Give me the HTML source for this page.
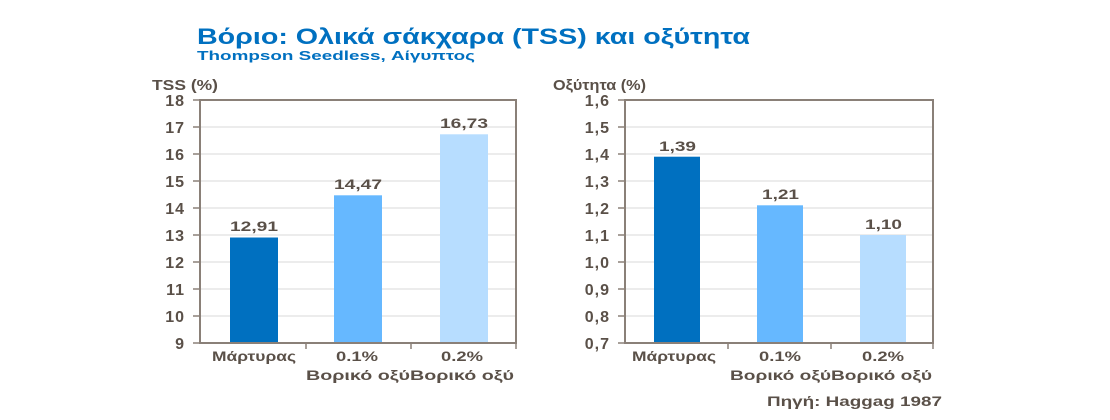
<!DOCTYPE html>
<html><head><meta charset="utf-8"><style>
body{margin:0;background:#fff;}
svg{display:block;font-family:"Liberation Sans",sans-serif;font-weight:bold;}
</style></head><body>
<svg width="1110" height="420" viewBox="0 0 1110 420">
<text x="197" y="44" font-size="22" fill="#0070c0" textLength="553" lengthAdjust="spacingAndGlyphs">Βόριο: Ολικά σάκχαρα (TSS) και οξύτητα</text>
<text x="197" y="60" font-size="13" fill="#0070c0" textLength="278" lengthAdjust="spacingAndGlyphs">Thompson Seedless, Αίγυπτος</text>

<g fill="#5a5048" font-size="15">
<text x="152" y="90" textLength="66" lengthAdjust="spacingAndGlyphs">TSS (%)</text>
<text x="553" y="90" textLength="93" lengthAdjust="spacingAndGlyphs">Οξύτητα (%)</text>
</g>

<!-- left chart -->
<g stroke="#d9d9d9" stroke-width="1">
<line x1="200" y1="127" x2="516" y2="127"/><line x1="200" y1="154" x2="516" y2="154"/>
<line x1="200" y1="181" x2="516" y2="181"/><line x1="200" y1="208" x2="516" y2="208"/>
<line x1="200" y1="235" x2="516" y2="235"/><line x1="200" y1="262" x2="516" y2="262"/>
<line x1="200" y1="289" x2="516" y2="289"/><line x1="200" y1="316" x2="516" y2="316"/>
</g>
<rect x="230" y="237.5" width="48" height="105.5" fill="#0070c0"/>
<rect x="334" y="195.3" width="48" height="147.7" fill="#66b8ff"/>
<rect x="440" y="134.3" width="48" height="208.7" fill="#b7ddff"/>
<rect x="200" y="100" width="316" height="243" fill="none" stroke="#8a8078" stroke-width="2"/>
<g stroke="#8a8078" stroke-width="1.5">
<line x1="193" y1="100" x2="200" y2="100"/><line x1="193" y1="127" x2="200" y2="127"/><line x1="193" y1="154" x2="200" y2="154"/><line x1="193" y1="181" x2="200" y2="181"/><line x1="193" y1="208" x2="200" y2="208"/><line x1="193" y1="235" x2="200" y2="235"/><line x1="193" y1="262" x2="200" y2="262"/><line x1="193" y1="289" x2="200" y2="289"/><line x1="193" y1="316" x2="200" y2="316"/><line x1="193" y1="343" x2="200" y2="343"/>
<line x1="306" y1="343" x2="306" y2="349"/><line x1="411" y1="343" x2="411" y2="349"/><line x1="516" y1="343" x2="516" y2="349"/>
</g>
<g fill="#5a5048" font-size="16" text-anchor="end" letter-spacing="1">
<text x="185" y="106">18</text><text x="185" y="133">17</text><text x="185" y="160">16</text><text x="185" y="187">15</text><text x="185" y="214">14</text><text x="185" y="241">13</text><text x="185" y="268">12</text><text x="185" y="295">11</text><text x="185" y="322">10</text><text x="185" y="349">9</text>
</g>
<g fill="#5a5048" font-size="14">
<text x="230" y="231" textLength="48" lengthAdjust="spacingAndGlyphs">12,91</text>
<text x="334" y="189" textLength="48" lengthAdjust="spacingAndGlyphs">14,47</text>
<text x="440" y="128" textLength="48" lengthAdjust="spacingAndGlyphs">16,73</text>
<text x="212" y="361" textLength="84" lengthAdjust="spacingAndGlyphs">Μάρτυρας</text>
<text x="336" y="361" textLength="42" lengthAdjust="spacingAndGlyphs">0.1%</text>
<text x="441" y="361" textLength="42" lengthAdjust="spacingAndGlyphs">0.2%</text>
<text x="306" y="380" textLength="208" lengthAdjust="spacingAndGlyphs">Βορικό οξύΒορικό οξύ</text>
</g>

<!-- right chart -->
<g stroke="#d9d9d9" stroke-width="1">
<line x1="625" y1="127" x2="933" y2="127"/><line x1="625" y1="154" x2="933" y2="154"/>
<line x1="625" y1="181" x2="933" y2="181"/><line x1="625" y1="208" x2="933" y2="208"/>
<line x1="625" y1="235" x2="933" y2="235"/><line x1="625" y1="262" x2="933" y2="262"/>
<line x1="625" y1="289" x2="933" y2="289"/><line x1="625" y1="316" x2="933" y2="316"/>
</g>
<rect x="654" y="156.7" width="46" height="186.3" fill="#0070c0"/>
<rect x="757" y="205.3" width="46" height="137.7" fill="#66b8ff"/>
<rect x="860" y="235" width="46" height="108" fill="#b7ddff"/>
<rect x="625" y="100" width="308" height="243" fill="none" stroke="#8a8078" stroke-width="2"/>
<g stroke="#8a8078" stroke-width="1.5">
<line x1="618" y1="100" x2="625" y2="100"/><line x1="618" y1="127" x2="625" y2="127"/><line x1="618" y1="154" x2="625" y2="154"/><line x1="618" y1="181" x2="625" y2="181"/><line x1="618" y1="208" x2="625" y2="208"/><line x1="618" y1="235" x2="625" y2="235"/><line x1="618" y1="262" x2="625" y2="262"/><line x1="618" y1="289" x2="625" y2="289"/><line x1="618" y1="316" x2="625" y2="316"/><line x1="618" y1="343" x2="625" y2="343"/>
<line x1="728" y1="343" x2="728" y2="349"/><line x1="831" y1="343" x2="831" y2="349"/><line x1="933" y1="343" x2="933" y2="349"/>
</g>
<g fill="#5a5048" font-size="16" text-anchor="end" letter-spacing="1">
<text x="610" y="106">1,6</text><text x="610" y="133">1,5</text><text x="610" y="160">1,4</text><text x="610" y="187">1,3</text><text x="610" y="214">1,2</text><text x="610" y="241">1,1</text><text x="610" y="268">1,0</text><text x="610" y="295">0,9</text><text x="610" y="322">0,8</text><text x="610" y="349">0,7</text>
</g>
<g fill="#5a5048" font-size="14">
<text x="659" y="151" textLength="37" lengthAdjust="spacingAndGlyphs">1,39</text>
<text x="762" y="199" textLength="37" lengthAdjust="spacingAndGlyphs">1,21</text>
<text x="865" y="229" textLength="37" lengthAdjust="spacingAndGlyphs">1,10</text>
<text x="632" y="361" textLength="84" lengthAdjust="spacingAndGlyphs">Μάρτυρας</text>
<text x="759" y="361" textLength="42" lengthAdjust="spacingAndGlyphs">0.1%</text>
<text x="862" y="361" textLength="42" lengthAdjust="spacingAndGlyphs">0.2%</text>
<text x="730" y="380" textLength="202" lengthAdjust="spacingAndGlyphs">Βορικό οξύΒορικό οξύ</text>
<text x="767" y="406" textLength="175" lengthAdjust="spacingAndGlyphs">Πηγή: Haggag 1987</text>
</g>
</svg>
</body></html>
